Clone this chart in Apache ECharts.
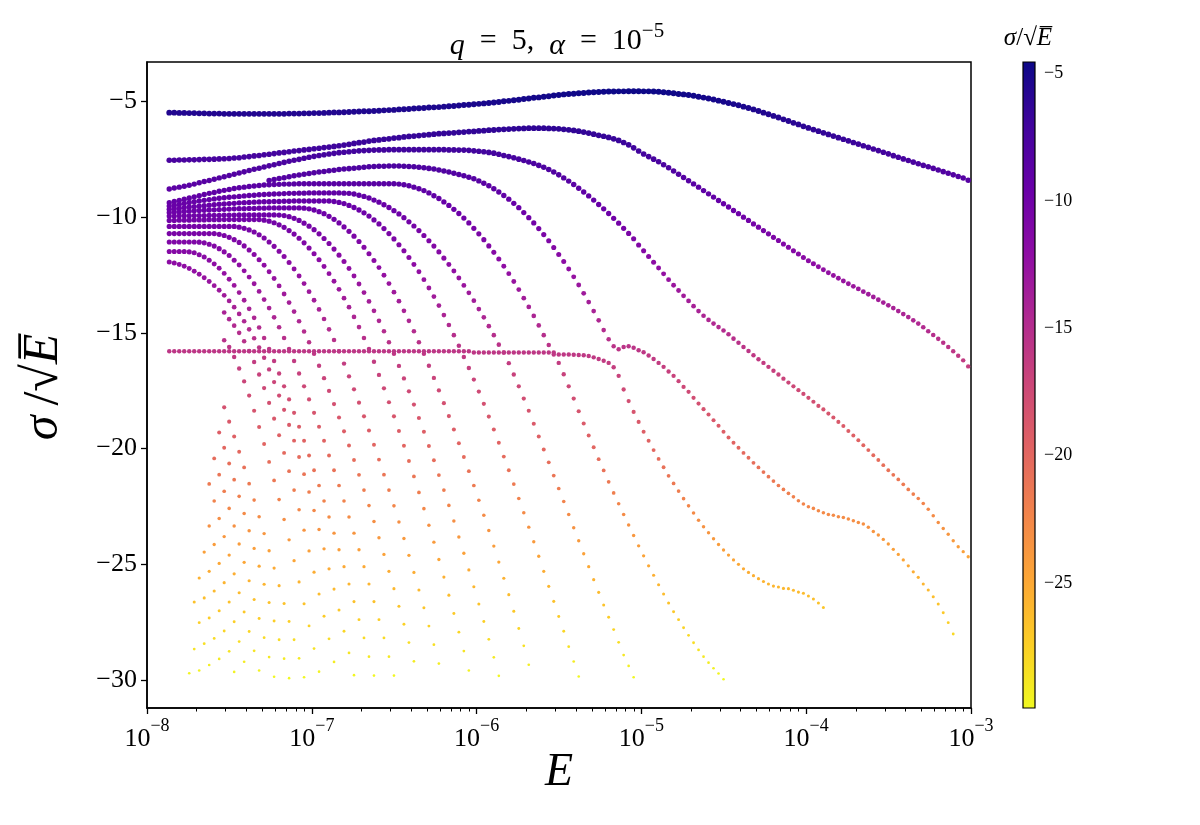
<!DOCTYPE html>
<html>
<head>
<meta charset="utf-8">
<script src="https://cdn.jsdelivr.net/npm/echarts@6/dist/echarts.min.js"></script>
<style>html,body{margin:0;padding:0;background:#fff}#chart{width:1200px;height:825px}</style>
</head>
<body>
<div id="chart"></div>
<script>
// log10(E) sampling grid shared by every branch
const logE = [
-7.8650,-7.8347,-7.8044,-7.7741,-7.7438,-7.7135,-7.6832,-7.6529,-7.6226,-7.5923,
-7.5620,-7.5317,-7.5014,-7.4711,-7.4408,-7.4105,-7.3802,-7.3499,-7.3196,-7.2893,
-7.2590,-7.2287,-7.1984,-7.1681,-7.1378,-7.1075,-7.0772,-7.0469,-7.0166,-6.9863,
-6.9560,-6.9257,-6.8954,-6.8651,-6.8348,-6.8045,-6.7742,-6.7439,-6.7136,-6.6833,
-6.6530,-6.6227,-6.5924,-6.5621,-6.5318,-6.5015,-6.4712,-6.4409,-6.4106,-6.3803,
-6.3500,-6.3197,-6.2894,-6.2591,-6.2288,-6.1985,-6.1682,-6.1379,-6.1076,-6.0773,
-6.0470,-6.0167,-5.9864,-5.9561,-5.9258,-5.8955,-5.8652,-5.8349,-5.8046,-5.7743,
-5.7440,-5.7137,-5.6834,-5.6531,-5.6228,-5.5925,-5.5622,-5.5319,-5.5016,-5.4713,
-5.4410,-5.4107,-5.3804,-5.3501,-5.3198,-5.2895,-5.2592,-5.2289,-5.1986,-5.1683,
-5.1380,-5.1077,-5.0774,-5.0471,-5.0168,-4.9865,-4.9562,-4.9259,-4.8956,-4.8653,
-4.8350,-4.8047,-4.7744,-4.7441,-4.7138,-4.6835,-4.6532,-4.6229,-4.5926,-4.5623,
-4.5320,-4.5017,-4.4714,-4.4411,-4.4108,-4.3805,-4.3502,-4.3199,-4.2896,-4.2593,
-4.2290,-4.1987,-4.1684,-4.1381,-4.1078,-4.0775,-4.0472,-4.0169,-3.9866,-3.9563,
-3.9260,-3.8957,-3.8654,-3.8351,-3.8048,-3.7745,-3.7442,-3.7139,-3.6836,-3.6533,
-3.6230,-3.5927,-3.5624,-3.5321,-3.5018,-3.4715,-3.4412,-3.4109,-3.3806,-3.3503,
-3.3200,-3.2897,-3.2594,-3.2291,-3.1988,-3.1685,-3.1382,-3.1079,-3.0776,-3.0473,
-3.0170];

// sigma/sqrt(E) along each branch; first point sits at grid index in curveStart
const curveA = [-5.48,-5.48,-5.49,-5.49,-5.50,-5.50,-5.51,-5.51,-5.52,-5.52,-5.52,-5.53,-5.53,-5.53,-5.53,
-5.53,-5.53,-5.53,-5.53,-5.53,-5.53,-5.53,-5.53,-5.53,-5.52,-5.52,-5.52,-5.51,-5.51,
-5.50,-5.50,-5.49,-5.48,-5.47,-5.47,-5.46,-5.45,-5.44,-5.43,-5.42,-5.42,-5.41,
-5.40,-5.38,-5.37,-5.36,-5.34,-5.33,-5.32,-5.30,-5.29,-5.28,-5.26,-5.25,-5.24,
-5.22,-5.20,-5.19,-5.17,-5.15,-5.14,-5.12,-5.10,-5.08,-5.06,-5.04,-5.02,-4.99,-4.97,-4.94,-4.92,
-4.89,-4.87,-4.84,-4.82,-4.79,-4.77,-4.74,-4.72,-4.69,-4.67,-4.66,-4.64,-4.63,-4.61,-4.60,-4.59,-4.58,-4.57,-4.57,-4.56,
-4.56,-4.55,-4.55,-4.55,-4.56,-4.56,-4.57,-4.58,-4.60,-4.62,-4.64,-4.67,-4.69,-4.72,-4.75,-4.79,-4.83,-4.87,-4.91,-4.96,
-5.01,-5.06,-5.11,-5.16,-5.22,-5.28,-5.34,-5.41,-5.48,-5.55,-5.62,-5.69,-5.77,-5.84,-5.92,-5.99,-6.07,-6.14,-6.21,-6.28,
-6.35,-6.42,-6.49,-6.56,-6.63,-6.70,-6.77,-6.84,-6.91,-6.98,-7.05,-7.12,-7.19,-7.26,-7.34,-7.41,-7.48,-7.55,-7.62,-7.69,
-7.76,-7.82,-7.89,-7.96,-8.03,-8.10,-8.17,-8.24,-8.31,-8.40];
const curveB = [-7.54,-7.54,-7.53,-7.53,-7.52,-7.52,-7.51,-7.50,-7.50,-7.49,-7.48,-7.47,-7.46,-7.44,-7.43,
-7.40,-7.38,-7.35,-7.33,-7.30,-7.28,-7.25,-7.22,-7.20,-7.17,-7.14,-7.12,-7.09,-7.07,
-7.04,-7.02,-6.99,-6.97,-6.94,-6.91,-6.88,-6.85,-6.81,-6.78,-6.75,-6.71,-6.68,
-6.66,-6.63,-6.61,-6.58,-6.56,-6.53,-6.51,-6.49,-6.47,-6.45,-6.43,-6.41,-6.39,
-6.38,-6.36,-6.35,-6.33,-6.32,-6.30,-6.29,-6.27,-6.26,-6.24,-6.23,-6.21,-6.20,
-6.19,-6.18,-6.17,-6.16,-6.15,-6.15,-6.15,-6.15,-6.16,-6.17,-6.18,-6.20,-6.22,
-6.25,-6.28,-6.32,-6.36,-6.41,-6.46,-6.50,
-6.55,-6.61,-6.68,-6.77,-6.87,-7.00,-7.14,-7.27,-7.38,-7.49,-7.60,-7.73,-7.86,
-8.00,-8.14,-8.28,-8.42,-8.56,-8.70,-8.85,-8.99,-9.13,-9.28,-9.42,-9.56,-9.71,-9.85,-10.00,-10.14,-10.29,-10.43,-10.58,-10.72,
-10.87,-11.01,-11.16,-11.30,-11.45,-11.59,-11.74,-11.88,-12.01,-12.14,-12.27,-12.40,-12.52,-12.64,-12.76,-12.88,-12.99,-13.10,-13.22,-13.33,
-13.45,-13.57,-13.69,-13.81,-13.93,-14.06,-14.19,-14.32,-14.46,-14.60,-14.76,-14.93,-15.09,-15.26,-15.43,-15.61,-15.80,-15.99,-16.19,-16.45];
const curveC = [-8.78,-8.74,-8.70,-8.66,-8.62,-8.57,-8.51,-8.46,-8.41,-8.36,-8.30,
-8.25,-8.20,-8.14,-8.09,-8.04,-7.98,-7.93,-7.88,-7.83,-7.78,-7.73,-7.68,-7.63,-7.58,-7.54,-7.50,-7.45,-7.41,-7.37,-7.33,
-7.30,-7.27,-7.24,-7.21,-7.19,-7.17,-7.15,-7.13,-7.12,-7.11,-7.10,-7.09,-7.09,-7.08,-7.08,-7.08,-7.08,-7.08,-7.08,-7.08,
-7.08,-7.08,-7.08,-7.08,-7.08,-7.09,-7.09,-7.10,-7.10,-7.11,-7.13,-7.15,-7.17,-7.20,-7.23,-7.28,-7.33,-7.38,-7.43,-7.49,
-7.55,-7.61,-7.68,-7.76,-7.84,-7.94,-8.05,-8.17,-8.30,-8.44,-8.59,-8.75,-8.91,-9.08,-9.26,-9.45,-9.64,-9.84,-10.05,-10.26,
-10.48,-10.70,-10.93,-11.20,-11.45,-11.70,-11.95,-12.20,-12.45,-12.70,
-12.94,-13.17,-13.40,-13.62,-13.85,-14.06,-14.26,-14.44,-14.60,-14.75,-14.90,
-15.06,-15.25,-15.43,-15.61,-15.78,-15.97,-16.14,-16.30,-16.47,-16.64,-16.80,-16.98,-17.15,-17.31,-17.48,-17.64,-17.81,-17.98,-18.16,-18.31,
-18.49,-18.66,-18.85,-19.03,-19.24,-19.44,-19.64,-19.86,-20.07,-20.29,-20.50,-20.72,-20.94,-21.14,-21.34,-21.55,-21.77,-21.97,-22.16,-22.38,
-22.63,-22.91,-23.20,-23.46,-23.71,-23.99,-24.25,-24.46,-24.68];
const curveD = [-8.41,-8.37,-8.33,-8.29,-8.25,-8.21,-8.18,-8.14,-8.11,-8.08,-8.05,-8.02,-7.99,-7.97,-7.94,-7.92,-7.90,-7.88,-7.86,-7.84,
-7.82,-7.81,-7.80,-7.80,-7.79,-7.79,-7.79,-7.80,-7.81,-7.82,-7.84,-7.86,-7.89,-7.92,-7.96,-8.00,-8.05,-8.10,-8.15,-8.21,-8.27,
-8.34,-8.43,-8.53,-8.64,-8.77,-8.91,-9.06,-9.22,-9.40,-9.59,-9.80,-10.02,-10.25,-10.49,-10.75,-11.02,-11.31,-11.61,-11.92,-12.24,
-12.58,-12.93,-13.29,-13.67,-14.06,-14.46,-14.88,-15.28,
-15.58,-15.71,-15.61,-15.58,-15.64,-15.75,-15.84,-15.98,-16.13,-16.30,-16.47,-16.67,-16.86,-17.09,-17.34,-17.55,-17.81,-18.06,-18.30,-18.53,
-18.78,-19.02,-19.28,-19.52,-19.75,-19.97,-20.19,-20.40,-20.62,-20.82,-21.02,-21.22,-21.41,-21.60,-21.77,-21.94,-22.09,-22.26,-22.40,-22.52,
-22.59,-22.69,-22.78,-22.85,-22.89,-22.95,-22.98,-23.05,-23.12,-23.20,-23.27,-23.41,-23.59,-23.74,-23.93,-24.13,-24.36,-24.58,-24.82,-25.07,
-25.33,-25.57,-25.86,-26.12,-26.41,-26.72,-27.10,-27.53,-28.02];
const curveE = [-9.37,-9.32,-9.27,-9.22,-9.17,-9.12,-9.07,-9.02,-8.97,-8.93,-8.88,-8.84,-8.80,-8.76,-8.73,-8.70,-8.67,-8.65,-8.63,-8.61,
-8.60,-8.59,-8.58,-8.57,-8.57,-8.56,-8.55,-8.55,-8.55,-8.55,-8.55,-8.55,-8.55,-8.55,-8.55,-8.55,-8.55,-8.55,-8.55,-8.55,
-8.55,-8.55,-8.55,-8.55,-8.55,-8.55,-8.57,-8.60,-8.64,-8.70,-8.77,-8.85,-8.95,-9.07,-9.19,-9.34,-9.49,-9.66,-9.84,-10.04,
-10.25,-10.48,-10.72,-10.97,-11.24,-11.52,-11.81,-12.12,-12.44,-12.78,-13.13,-13.50,-13.88,-14.27,-14.68,-15.10,-15.53,-15.85,
-16.30,-16.79,-17.31,-17.84,-18.39,-18.92,-19.44,-19.95,-20.46,-20.95,-21.44,-21.92,-22.39,-22.85,-23.31,-23.76,-24.21,-24.64,-25.07,-25.48,
-25.89,-26.29,-26.68,-27.06,-27.40,-27.75,-28.08,-28.40,-28.71,-29.00,-29.26,-29.50,-29.73,-29.98];
const curveF = [-9.52,-9.48,-9.44,-9.40,-9.36,-9.33,-9.30,-9.27,-9.24,-9.21,-9.18,-9.16,-9.14,-9.12,-9.10,-9.08,-9.06,-9.05,-9.03,-9.02,
-9.01,-9.00,-8.99,-8.98,-8.97,-8.97,-8.96,-8.96,-8.95,-8.95,-8.95,-8.95,-8.95,-8.95,-8.95,
-8.96,-8.97,-9.00,-9.05,-9.10,-9.17,-9.26,-9.35,-9.46,-9.58,-9.72,-9.86,-10.02,-10.20,-10.38,-10.58,-10.79,-11.02,-11.25,-11.50,
-11.77,-12.04,-12.33,-12.63,-12.95,-13.27,-13.61,-13.97,-14.33,-14.71,-15.10,-15.51,
-15.85,-16.31,-16.80,-17.31,-17.84,-18.37,-18.93,-19.48,-20.04,-20.60,-21.17,-21.73,-22.29,-22.85,-23.43,-23.99,-24.55,-25.11,-25.67,-26.22,
-26.77,-27.30,-27.83,-28.38,-28.93,-29.40,-29.89];
const curveG = [-9.66,-9.63,-9.61,-9.58,-9.56,-9.54,-9.52,-9.50,-9.48,-9.46,-9.44,-9.43,-9.41,-9.40,-9.38,-9.37,-9.36,-9.35,-9.34,-9.33,
-9.33,-9.32,-9.32,-9.31,-9.31,-9.30,-9.30,-9.30,-9.30,-9.30,-9.30,-9.30,
-9.30,-9.32,-9.36,-9.41,-9.49,-9.58,-9.69,-9.81,-9.95,-10.12,-10.29,-10.49,-10.71,-10.94,-11.19,-11.45,-11.74,-12.04,-12.36,-12.70,
-13.06,-13.43,-13.82,-14.23,-14.66,-15.10,-15.56,-16.04,-16.52,
-17.02,-17.54,-18.07,-18.62,-19.18,-19.75,-20.35,-20.94,-21.54,-22.16,-22.78,-23.40,-24.03,-24.66,-25.31,-25.96,-26.61,-27.26,-27.90,-28.57,
-29.21,-29.86];
const curveH = [-9.80,-9.78,-9.77,-9.75,-9.74,-9.72,-9.71,-9.70,-9.69,-9.68,-9.67,-9.66,-9.65,-9.64,-9.63,-9.63,-9.62,-9.62,-9.61,-9.61,
-9.60,-9.60,-9.60,-9.60,-9.60,-9.60,-9.60,
-9.61,-9.64,-9.69,-9.76,-9.85,-9.96,-10.09,-10.25,-10.42,-10.61,-10.82,-11.05,-11.30,-11.58,-11.87,-12.18,-12.51,-12.87,-13.24,-13.63,
-14.05,-14.48,-14.93,-15.41,-15.90,
-16.42,-16.95,-17.49,-18.04,-18.60,-19.18,-19.77,-20.37,-20.98,-21.60,-22.24,-22.89,-23.55,-24.22,-24.91,-25.61,-26.32,-27.04,-27.78,-28.53,
-29.35];
const curveI = [-9.95,-9.95,-9.94,-9.94,-9.94,-9.93,-9.93,-9.93,-9.92,-9.92,-9.92,-9.91,-9.91,-9.91,-9.90,-9.90,-9.90,-9.90,-9.90,-9.90,-9.90,-9.90,
-9.91,-9.93,-9.98,-10.05,-10.14,-10.26,-10.39,-10.54,-10.72,-10.92,-11.14,-11.38,-11.64,-11.92,-12.22,-12.54,-12.89,-13.26,-13.64,-14.05,
-14.48,-14.93,-15.41,-15.90,
-16.43,-16.97,-17.53,-18.10,-18.68,-19.28,-19.89,-20.51,-21.15,-21.80,-22.46,-23.14,-23.83,-24.53,-25.25,-25.98,-26.72,-27.48,-28.25,-29.03,
-29.83];
const curveJ = [-10.14,-10.14,-10.13,-10.13,-10.13,-10.12,-10.12,-10.12,-10.11,-10.11,-10.11,-10.10,-10.10,-10.10,-10.10,-10.10,-10.10,-10.10,
-10.10,-10.13,-10.17,-10.24,-10.33,-10.44,-10.58,-10.73,-10.91,-11.11,-11.33,-11.58,-11.84,-12.13,-12.44,-12.77,-13.12,-13.50,-13.89,-14.31,
-14.75,-15.22,-15.70,
-16.25,-16.82,-17.40,-18.00,-18.61,-19.24,-19.88,-20.54,-21.21,-21.90,-22.60,-23.32,-24.05,-24.80,-25.56,-26.34,-27.13,-27.94,-28.76,-29.60];
const curveK = [-10.40,-10.40,-10.40,-10.40,-10.40,-10.40,-10.40,-10.40,-10.40,-10.40,-10.40,-10.40,-10.40,
-10.40,-10.43,-10.48,-10.55,-10.64,-10.76,-10.90,-11.07,-11.26,-11.47,-11.70,-11.96,-12.24,-12.54,-12.87,-13.22,-13.59,-13.99,-14.40,-14.85,
-15.31,-15.80,
-16.33,-16.88,-17.44,-18.02,-18.61,-19.22,-19.84,-20.48,-21.13,-21.80,-22.48,-23.18,-23.89,-24.62,-25.36,-26.12,-26.89,-27.68,-28.48,-29.30];
const curveL = [-10.71,-10.71,-10.71,-10.71,-10.71,-10.71,-10.71,-10.71,-10.71,
-10.71,-10.74,-10.79,-10.87,-10.97,-11.09,-11.24,-11.42,-11.61,-11.84,-12.08,-12.36,-12.65,-12.97,-13.32,-13.69,-14.08,-14.50,-14.94,-15.41,
-15.90,
-16.42,-16.96,-17.51,-18.08,-18.66,-19.26,-19.87,-20.50,-21.14,-21.80,-22.47,-23.16,-23.86,-24.58,-25.31,-26.06,-26.82,-27.60,-28.39,-29.20];
const curveM = [-11.07,-11.07,-11.07,-11.07,-11.07,-11.07,
-11.08,-11.11,-11.17,-11.25,-11.36,-11.50,-11.66,-11.86,-12.07,-12.32,-12.59,-12.88,-13.21,-13.56,-13.93,-14.33,-14.76,-15.22,-15.70,
-16.22,-16.76,-17.31,-17.88,-18.46,-19.06,-19.67,-20.30,-20.94,-21.60,-22.27,-22.96,-23.66,-24.38,-25.11,-25.86,-26.62,-27.40,-28.19,-29.00,
-29.82];
const curveN = [-11.48,-11.48,-11.48,
-11.48,-11.50,-11.54,-11.62,-11.72,-11.86,-12.02,-12.21,-12.43,-12.68,-12.95,-13.26,-13.59,-13.96,-14.35,-14.77,-15.22,-15.70,
-16.22,-16.76,-17.31,-17.88,-18.46,-19.06,-19.67,-20.30,-20.94,-21.60,-22.27,-22.96,-23.66,-24.38,-25.11,-25.86,-26.62,-27.40,-28.19,-29.00,
-29.82];
const curveO = [-11.94,-11.98,-12.04,-12.12,-12.22,-12.34,-12.47,-12.62,-12.78,-12.96,-13.16,-13.38,-13.62,-13.89,-14.18,-14.50,-14.85,-15.23,
-15.63,-16.08,-16.58,-17.13,-17.71,-18.33,-18.98,-19.66,-20.37,-21.11,-21.88,-22.68,-23.50,-24.34,-25.20,-26.08,-26.98,-27.90,-28.84,-29.80];
const curveFlat = [-15.80,-15.80,-15.80,-15.80,-15.80,-15.80,-15.80,-15.80,-15.80,-15.80,-15.80,-15.80,-15.80,-15.80,-15.80,-15.80,
-15.80,-15.80,-15.80,-15.80,-15.80,-15.80,-15.80,-15.80,-15.80,-15.80,-15.80,-15.80,-15.80,-15.80,-15.80,-15.80,
-15.80,-15.80,-15.80,-15.80,-15.80,-15.80,-15.80,-15.80,-15.80,-15.80,-15.80,-15.80,-15.80,-15.80,-15.80,-15.80,
-15.80,-15.80,-15.80,-15.80,-15.80,-15.80,-15.80,-15.80,-15.80,-15.80,-15.80,-15.80,-15.80,
-15.85,-15.85,-15.85,-15.85,-15.85,-15.85,-15.85,-15.85,-15.85,-15.85,-15.85,-15.85,-15.85,-15.85,-15.85,-15.85,
-15.94,-15.94,-15.94,-15.94,-15.95,-15.96,-15.97,-16.00,-16.06,-16.13,-16.21,-16.30,
-16.49,-16.86,-17.45,-17.95,-18.42,-18.85,-19.28,-19.67,-20.07,-20.45,-20.81,-21.18,-21.51,-21.84,-22.17,-22.48,-22.79,-23.10,-23.38,-23.64,
-23.90,-24.15,-24.39,-24.61,-24.82,-25.01,-25.20,-25.36,-25.50,-25.63,-25.75,-25.86,-25.95,-25.99,-26.05,-26.06,-26.13,-26.21,-26.26,-26.38,
-26.51,-26.68,-26.87];
const curveS11 = [-14.12,-14.41,-14.69,-15.00,-15.36,-15.78,-16.26,-16.80,-17.39,-18.03,-18.71,-19.43,-20.19,-20.98,-21.80,-22.65,-23.53,-24.43,
-25.35,-26.29,-27.25,-28.23,-29.23];
const curveS10 = [-15.32,-15.61,-16.04,-16.54,-17.10,-17.71,-18.37,-19.07,-19.81,-20.58,-21.38,-22.21,-23.07,-23.95,-24.85,-25.77,-26.71,-27.67,
-28.65,-29.65];
const curveS9 = [-18.22,-18.84,-19.48,-20.14,-20.82,-21.52,-22.23,-22.95,-23.68,-24.42,-25.17,-25.93,-26.70,-27.48,-28.27,-29.07,-29.89];
const curveS8 = [-19.31,-19.97,-20.65,-21.35,-22.07,-22.81,-23.56,-24.32,-25.09,-25.87,-26.66,-27.46,-28.27,-29.09,-29.93];
const curveS7 = [-20.43,-21.13,-21.85,-22.59,-23.35,-24.13,-24.92,-25.72,-26.53,-27.35,-28.18,-29.02,-29.87];
const curveS6 = [-21.53,-22.27,-23.03,-23.81,-24.61,-25.42,-26.24,-27.07,-27.91,-28.75,-29.60];
const curveS5b = [-23.35,-24.15,-24.97,-25.80,-26.64,-27.49,-28.35,-29.22];
const curveS5 = [-24.48,-25.31,-26.16,-27.02,-27.89,-28.77,-29.66];
const curveS4 = [-25.60,-26.46,-27.33,-28.21,-29.10];
const curveS3 = [-26.64,-27.53,-28.44,-29.36];
const curveS2 = [-28.67,-29.60];
const curveS1 = [-29.72];

const curves = [curveA, curveB, curveC, curveD, curveE, curveF, curveG, curveH, curveI, curveJ, curveK, curveL, curveM, curveN, curveO,
  curveFlat, curveS11, curveS10, curveS9, curveS8, curveS7, curveS6, curveS5b, curveS5, curveS4, curveS3, curveS2, curveS1];
const curveStart = [0, 0, 0, 20, 0, 0, 0, 0, 0, 0, 0, 0, 0, 0, 0,
  0, 11, 11, 11, 10, 9, 8, 8, 7, 6, 5, 5, 4];

const yTicks = [-30, -25, -20, -15, -10, -5];
const cbarTicks = [-25, -20, -15, -10, -5];
const minorMult = [2, 3, 4, 5, 6, 7, 8, 9];
const minorDecades = [-8, -7, -6, -5, -4];

const FONT = "'Liberation Serif','DejaVu Serif',serif";
const plasma = ['#0d0887','#41049d','#6a00a8','#8f0da4','#b12a90','#cc4778','#e16462','#f2844b','#fca636','#fcce25','#f0f921'];
const minus = v => (v < 0 ? '\u2212' : '') + Math.abs(v);
const SP = '\u2002';

const minorTicks = minorDecades.flatMap(d => minorMult.map(m => m * Math.pow(10, d)));

const series = curves.map((ys, n) => ({
  type: 'scatter',
  xAxisIndex: 0, yAxisIndex: 0,
  silent: true,
  itemStyle: { opacity: 1 },
  data: ys.map((y, k) => [Math.pow(10, logE[curveStart[n] + k]), y])
}));

const chart = echarts.init(document.getElementById('chart'));
chart.setOption({
  animation: false,
  backgroundColor: '#fff',
  grid: [
    { left: 147, top: 62, width: 824, height: 646, show: true, borderColor: '#000', borderWidth: 1.5, backgroundColor: 'transparent' },
    { left: 1023, top: 62, width: 12, height: 646, show: false }
  ],
  xAxis: [
    { type: 'log', logBase: 10, gridIndex: 0, min: 1e-8, max: 1e-3,
      axisLine: { show: true, onZero: false, lineStyle: { color: '#000', width: 1.5 } },
      axisTick: { show: true, inside: false, length: 6, lineStyle: { color: '#000', width: 1.3 } },
      splitLine: { show: false },
      axisLabel: {
        margin: 9,
        formatter: v => '{b|10}{s|' + minus(Math.round(Math.log10(v))) + '}',
        rich: {
          b: { fontSize: 26, fontFamily: FONT, color: '#000', verticalAlign: 'bottom', lineHeight: 26 },
          s: { fontSize: 18, fontFamily: FONT, color: '#000', verticalAlign: 'top', lineHeight: 35 }
        }
      } },
    { type: 'log', logBase: 10, gridIndex: 0, min: 1e-8, max: 1e-3, position: 'bottom',
      axisLine: { show: false }, axisLabel: { show: false }, splitLine: { show: false },
      axisTick: { show: true, inside: false, length: 3.5, lineStyle: { color: '#000', width: 1 }, customValues: minorTicks } },
    { type: 'value', gridIndex: 1, min: 0, max: 1, show: false }
  ],
  yAxis: [
    { type: 'value', gridIndex: 0, min: -31.22, max: -3.29,
      axisLine: { show: true, lineStyle: { color: '#000', width: 1.5 } },
      axisTick: { show: true, inside: false, length: 6, lineStyle: { color: '#000', width: 1.3 }, customValues: yTicks },
      axisLabel: { margin: 10, fontSize: 26, fontFamily: FONT, color: '#000', formatter: minus, customValues: yTicks },
      splitLine: { show: false } },
    { type: 'value', gridIndex: 1, min: -29.9, max: -4.55, position: 'right',
      axisLine: { show: false },
      axisTick: { show: true, inside: false, length: 5, lineStyle: { color: '#000', width: 1 }, customValues: cbarTicks },
      axisLabel: { margin: 9, fontSize: 18, fontFamily: FONT, color: '#000', formatter: minus, customValues: cbarTicks },
      splitLine: { show: false } }
  ],
  visualMap: [{
    type: 'continuous', show: false, dimension: 1, min: -30, max: -4.5,
    seriesIndex: series.map((s, i) => i),
    inRange: { color: plasma.slice().reverse(), symbolSize: [2.6, 6.0] }
  }],
  graphic: [
    { type: 'rect', z: 10, shape: { x: 1023, y: 62, width: 12, height: 646 },
      style: { fill: new echarts.graphic.LinearGradient(0, 0, 0, 1, plasma.map((c, i) => ({ offset: i / 10, color: c }))), stroke: '#000', lineWidth: 1.2 } },
    { type: 'text', x: 557, y: 41, z: 10,
      style: { text: '{i|q}' + SP + '=' + SP + '5,' + SP + '{i|\u03b1}' + SP + '=' + SP + '10{s|\u22125}', align: 'center', verticalAlign: 'middle',
        rich: { i: { fontSize: 30, fontFamily: FONT, fontStyle: 'italic', fill: '#000', verticalAlign: 'bottom', lineHeight: 30 },
                s: { fontSize: 21, fontFamily: FONT, fill: '#000', verticalAlign: 'top', lineHeight: 40 } },
        fontSize: 30, fontFamily: FONT, fill: '#000' } },
    { type: 'text', x: 559, y: 773, z: 10,
      style: { text: 'E', fontSize: 46, fontFamily: FONT, fontStyle: 'italic', fill: '#000', align: 'center', verticalAlign: 'middle' } },
    { type: 'text', x: 44, y: 387, rotation: Math.PI / 2, z: 10,
      style: { text: '{i|\u03c3}\u2009/\u221a{i|E\u0305}', align: 'center', verticalAlign: 'middle', fontSize: 50, fontFamily: FONT, fill: '#000',
        rich: { i: { fontSize: 50, fontFamily: FONT, fontStyle: 'italic', fill: '#000' } } } },
    { type: 'text', x: 1028, y: 38, z: 10,
      style: { text: '{i|\u03c3}/\u221a{i|E\u0305}', align: 'center', verticalAlign: 'middle', fontSize: 25, fontFamily: FONT, fill: '#000',
        rich: { i: { fontSize: 25, fontFamily: FONT, fontStyle: 'italic', fill: '#000' } } } }
  ],
  series: series
});
</script>
</body>
</html>
